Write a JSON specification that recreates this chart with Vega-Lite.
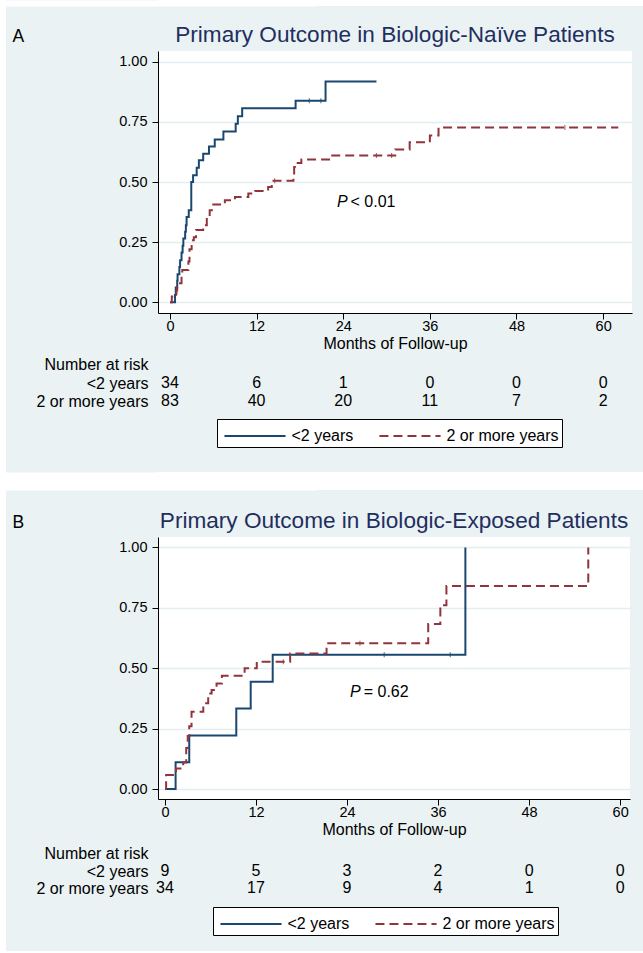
{
  "$schema": "https://vega.github.io/schema/vega-lite/v6.json",
  "background": "#eaf2f3",
  "padding": 0,
  "autosize": {"type": "pad"},
  "spacing": 152,
  "bounds": "flush",
  "config": {
    "font": "Liberation Sans",
    "view": {"stroke": null},
    "axis": {"domainColor": "#000000", "tickColor": "#000000", "labelColor": "#000000", "titleColor": "#000000", "titleFontWeight": "normal", "labelFont": "Liberation Sans", "titleFont": "Liberation Sans"},
    "title": {"font": "Liberation Sans", "fontWeight": "normal"},
    "text": {"font": "Liberation Sans", "color": "#000000"},
    "tick": {"orient": "vertical"}
  },
  "resolve": {
    "scale": {"x": "independent", "y": "independent", "color": "independent", "strokeDash": "independent"},
    "legend": {"color": "independent", "strokeDash": "independent"}
  },
  "datasets": {
    "km": [
      {"panel": "A", "g": "<2 years", "t": 0, "s": 0},
      {"panel": "A", "g": "<2 years", "t": 0.7, "s": 0.03},
      {"panel": "A", "g": "<2 years", "t": 0.8, "s": 0.062},
      {"panel": "A", "g": "<2 years", "t": 1.0, "s": 0.09},
      {"panel": "A", "g": "<2 years", "t": 1.05, "s": 0.117},
      {"panel": "A", "g": "<2 years", "t": 1.3, "s": 0.147},
      {"panel": "A", "g": "<2 years", "t": 1.4, "s": 0.175},
      {"panel": "A", "g": "<2 years", "t": 1.6, "s": 0.207},
      {"panel": "A", "g": "<2 years", "t": 1.75, "s": 0.235},
      {"panel": "A", "g": "<2 years", "t": 1.85, "s": 0.265},
      {"panel": "A", "g": "<2 years", "t": 2.1, "s": 0.293},
      {"panel": "A", "g": "<2 years", "t": 2.2, "s": 0.32},
      {"panel": "A", "g": "<2 years", "t": 2.3, "s": 0.355},
      {"panel": "A", "g": "<2 years", "t": 2.6, "s": 0.383},
      {"panel": "A", "g": "<2 years", "t": 2.95, "s": 0.5},
      {"panel": "A", "g": "<2 years", "t": 3.2, "s": 0.528},
      {"panel": "A", "g": "<2 years", "t": 3.7, "s": 0.559},
      {"panel": "A", "g": "<2 years", "t": 4.0, "s": 0.59},
      {"panel": "A", "g": "<2 years", "t": 4.6, "s": 0.617},
      {"panel": "A", "g": "<2 years", "t": 5.4, "s": 0.648},
      {"panel": "A", "g": "<2 years", "t": 6.2, "s": 0.677},
      {"panel": "A", "g": "<2 years", "t": 7.4, "s": 0.71},
      {"panel": "A", "g": "<2 years", "t": 9.1, "s": 0.742},
      {"panel": "A", "g": "<2 years", "t": 9.4, "s": 0.773},
      {"panel": "A", "g": "<2 years", "t": 10.0, "s": 0.807},
      {"panel": "A", "g": "<2 years", "t": 17.4, "s": 0.838},
      {"panel": "A", "g": "<2 years", "t": 21.55, "s": 0.918},
      {"panel": "A", "g": "<2 years", "t": 28.6, "s": 0.918},
      {"panel": "A", "g": "2 or more years", "t": 0, "s": 0},
      {"panel": "A", "g": "2 or more years", "t": 0.25, "s": 0.024},
      {"panel": "A", "g": "2 or more years", "t": 0.9, "s": 0.05},
      {"panel": "A", "g": "2 or more years", "t": 1.0, "s": 0.079},
      {"panel": "A", "g": "2 or more years", "t": 1.6, "s": 0.11},
      {"panel": "A", "g": "2 or more years", "t": 1.7, "s": 0.134},
      {"panel": "A", "g": "2 or more years", "t": 2.55, "s": 0.17},
      {"panel": "A", "g": "2 or more years", "t": 2.7, "s": 0.22},
      {"panel": "A", "g": "2 or more years", "t": 3.0, "s": 0.258},
      {"panel": "A", "g": "2 or more years", "t": 3.3, "s": 0.27},
      {"panel": "A", "g": "2 or more years", "t": 3.6, "s": 0.3},
      {"panel": "A", "g": "2 or more years", "t": 4.6, "s": 0.32},
      {"panel": "A", "g": "2 or more years", "t": 5.1, "s": 0.35},
      {"panel": "A", "g": "2 or more years", "t": 5.5, "s": 0.383},
      {"panel": "A", "g": "2 or more years", "t": 6.0, "s": 0.407},
      {"panel": "A", "g": "2 or more years", "t": 7.6, "s": 0.424},
      {"panel": "A", "g": "2 or more years", "t": 9.0, "s": 0.438},
      {"panel": "A", "g": "2 or more years", "t": 10.85, "s": 0.452},
      {"panel": "A", "g": "2 or more years", "t": 11.8, "s": 0.463},
      {"panel": "A", "g": "2 or more years", "t": 13.6, "s": 0.479},
      {"panel": "A", "g": "2 or more years", "t": 14.1, "s": 0.505},
      {"panel": "A", "g": "2 or more years", "t": 17.1, "s": 0.53},
      {"panel": "A", "g": "2 or more years", "t": 17.2, "s": 0.562},
      {"panel": "A", "g": "2 or more years", "t": 17.5, "s": 0.579},
      {"panel": "A", "g": "2 or more years", "t": 18.2, "s": 0.594},
      {"panel": "A", "g": "2 or more years", "t": 22.2, "s": 0.61},
      {"panel": "A", "g": "2 or more years", "t": 31.2, "s": 0.635},
      {"panel": "A", "g": "2 or more years", "t": 33.2, "s": 0.665},
      {"panel": "A", "g": "2 or more years", "t": 36.0, "s": 0.693},
      {"panel": "A", "g": "2 or more years", "t": 37.2, "s": 0.727},
      {"panel": "A", "g": "2 or more years", "t": 62.1, "s": 0.727},
      {"panel": "B", "g": "<2 years", "t": 0, "s": 0},
      {"panel": "B", "g": "<2 years", "t": 1.4, "s": 0.111},
      {"panel": "B", "g": "<2 years", "t": 3.2, "s": 0.222},
      {"panel": "B", "g": "<2 years", "t": 9.4, "s": 0.333},
      {"panel": "B", "g": "<2 years", "t": 11.3, "s": 0.444},
      {"panel": "B", "g": "<2 years", "t": 14.2, "s": 0.556},
      {"panel": "B", "g": "<2 years", "t": 39.6, "s": 1.0},
      {"panel": "B", "g": "2 or more years", "t": 0, "s": 0},
      {"panel": "B", "g": "2 or more years", "t": 0.15, "s": 0.058},
      {"panel": "B", "g": "2 or more years", "t": 1.45, "s": 0.085},
      {"panel": "B", "g": "2 or more years", "t": 2.4, "s": 0.11},
      {"panel": "B", "g": "2 or more years", "t": 2.8, "s": 0.17},
      {"panel": "B", "g": "2 or more years", "t": 3.0, "s": 0.22},
      {"panel": "B", "g": "2 or more years", "t": 3.2, "s": 0.26},
      {"panel": "B", "g": "2 or more years", "t": 3.5, "s": 0.32},
      {"panel": "B", "g": "2 or more years", "t": 5.05, "s": 0.355},
      {"panel": "B", "g": "2 or more years", "t": 5.7, "s": 0.396},
      {"panel": "B", "g": "2 or more years", "t": 6.15, "s": 0.41},
      {"panel": "B", "g": "2 or more years", "t": 6.8, "s": 0.437},
      {"panel": "B", "g": "2 or more years", "t": 7.5, "s": 0.469},
      {"panel": "B", "g": "2 or more years", "t": 10.5, "s": 0.5},
      {"panel": "B", "g": "2 or more years", "t": 12.1, "s": 0.527},
      {"panel": "B", "g": "2 or more years", "t": 16.5, "s": 0.561},
      {"panel": "B", "g": "2 or more years", "t": 21.3, "s": 0.603},
      {"panel": "B", "g": "2 or more years", "t": 34.7, "s": 0.683},
      {"panel": "B", "g": "2 or more years", "t": 36.3, "s": 0.761},
      {"panel": "B", "g": "2 or more years", "t": 37.1, "s": 0.84},
      {"panel": "B", "g": "2 or more years", "t": 55.8, "s": 1.0}
    ],
    "censor": [
      {"panel": "A", "g": "<2 years", "t": 19.3, "s": 0.838},
      {"panel": "A", "g": "<2 years", "t": 20.9, "s": 0.838},
      {"panel": "A", "g": "2 or more years", "t": 14.5, "s": 0.505},
      {"panel": "A", "g": "2 or more years", "t": 28.6, "s": 0.61},
      {"panel": "A", "g": "2 or more years", "t": 30.7, "s": 0.61},
      {"panel": "A", "g": "2 or more years", "t": 54.7, "s": 0.727},
      {"panel": "B", "g": "<2 years", "t": 28.9, "s": 0.556},
      {"panel": "B", "g": "<2 years", "t": 37.6, "s": 0.556},
      {"panel": "B", "g": "2 or more years", "t": 15.6, "s": 0.527},
      {"panel": "B", "g": "2 or more years", "t": 25.7, "s": 0.603}
    ],
    "risk": [
      {"panel": "A", "g": "<2 years", "t": 0, "n": 34},
      {"panel": "A", "g": "<2 years", "t": 12, "n": 6},
      {"panel": "A", "g": "<2 years", "t": 24, "n": 1},
      {"panel": "A", "g": "<2 years", "t": 36, "n": 0},
      {"panel": "A", "g": "<2 years", "t": 48, "n": 0},
      {"panel": "A", "g": "<2 years", "t": 60, "n": 0},
      {"panel": "A", "g": "2 or more years", "t": 0, "n": 83},
      {"panel": "A", "g": "2 or more years", "t": 12, "n": 40},
      {"panel": "A", "g": "2 or more years", "t": 24, "n": 20},
      {"panel": "A", "g": "2 or more years", "t": 36, "n": 11},
      {"panel": "A", "g": "2 or more years", "t": 48, "n": 7},
      {"panel": "A", "g": "2 or more years", "t": 60, "n": 2},
      {"panel": "B", "g": "<2 years", "t": 0, "n": 9},
      {"panel": "B", "g": "<2 years", "t": 12, "n": 5},
      {"panel": "B", "g": "<2 years", "t": 24, "n": 3},
      {"panel": "B", "g": "<2 years", "t": 36, "n": 2},
      {"panel": "B", "g": "<2 years", "t": 48, "n": 0},
      {"panel": "B", "g": "<2 years", "t": 60, "n": 0},
      {"panel": "B", "g": "2 or more years", "t": 0, "n": 34},
      {"panel": "B", "g": "2 or more years", "t": 12, "n": 17},
      {"panel": "B", "g": "2 or more years", "t": 24, "n": 9},
      {"panel": "B", "g": "2 or more years", "t": 36, "n": 4},
      {"panel": "B", "g": "2 or more years", "t": 48, "n": 1},
      {"panel": "B", "g": "2 or more years", "t": 60, "n": 0}
    ]
  },
  "hconcat": [
    {
      "width": 6, "height": 951,
      "view": {"fill": "white", "stroke": null},
      "data": {"values": [{}]},
      "mark": {"type": "point", "opacity": 0},
      "encoding": {}
    },
    {
      "spacing": 0,
      "bounds": "flush",
      "resolve": {
        "scale": {"x": "independent", "y": "independent", "color": "independent", "strokeDash": "independent"},
        "legend": {"color": "independent", "strokeDash": "independent"}
      },
      "vconcat": [
        {
          "width": 485, "height": 6,
          "view": {"fill": "white", "stroke": null},
          "data": {"values": [{}]},
          "mark": {"type": "point", "opacity": 0},
          "encoding": {"y": {"datum": 0, "type": "quantitative", "scale": {"domain": [0, 1]}, "axis": {"domain": true, "domainColor": "white", "domainWidth": 316, "ticks": false, "labels": false, "grid": false, "title": null}}}
        },
        {
          "width": 485, "height": 45,
          "view": {"stroke": null},
          "data": {"values": [{}]},
          "mark": {"type": "point", "opacity": 0},
          "encoding": {"y": {"datum": 0, "type": "quantitative", "scale": {"domain": [0, 1]}, "axis": {"domain": false, "ticks": false, "labels": false, "grid": false, "title": "A", "titleAngle": 0, "titleAlign": "left", "titleBaseline": "alphabetic", "titleX": -146, "titleY": 35, "titleFontSize": 17.5, "titleFontWeight": "normal", "titleColor": "#000000"}}}
        },
        {
          "width": 474, "height": 262,
          "view": {"fill": "white", "stroke": null},
          "title": {"text": "Primary Outcome in Biologic-Naïve Patients", "fontSize": 22.6, "color": "#1f2f5f", "anchor": "middle", "frame": "group", "offset": -14, "baseline": "alphabetic"},
          "layer": [
            {
              "data": {"name": "km"},
              "transform": [{"filter": "datum.panel === 'A'"}],
              "mark": {"type": "line", "interpolate": "step-after", "strokeWidth": 2},
              "encoding": {
                "x": {"field": "t", "type": "quantitative", "scale": {"domain": [-1.66, 64], "nice": false, "zero": false},
                      "axis": {"values": [0, 12, 24, 36, 48, 60], "grid": false, "tickSize": 6, "labelPadding": 0, "labelFontSize": 14.5, "title": "Months of Follow-up", "titleFontSize": 16, "titlePadding": 3}},
                "y": {"field": "s", "type": "quantitative", "scale": {"domain": [-0.0445, 1.0445], "nice": false, "zero": false},
                      "axis": {"values": [0, 0.25, 0.5, 0.75, 1], "format": ".2f", "grid": true, "gridColor": "#e4eef0", "gridWidth": 1.5, "tickSize": 6, "labelPadding": 5, "labelFontSize": 14.5, "title": null}},
                "color": {"field": "g", "type": "nominal", "scale": {"domain": ["<2 years", "2 or more years"], "range": ["#1a476f", "#90353b"]}, "legend": null},
                "strokeDash": {"field": "g", "type": "nominal", "scale": {"domain": ["<2 years", "2 or more years"], "range": [[1, 0], [9, 5]]}, "legend": null}
              }
            },
            {
              "data": {"name": "censor"},
              "transform": [{"filter": "datum.panel === 'A'"}],
              "mark": {"type": "tick", "size": 5, "thickness": 1.2},
              "encoding": {
                "x": {"field": "t", "type": "quantitative"},
                "y": {"field": "s", "type": "quantitative"},
                "color": {"field": "g", "type": "nominal", "legend": null}
              }
            },
            {
              "data": {"values": [{}]},
              "mark": {"type": "text", "fontStyle": "italic", "fontSize": 16, "align": "right", "baseline": "middle"},
              "encoding": {"x": {"datum": 24.6, "type": "quantitative"}, "y": {"datum": 0.418, "type": "quantitative"}, "text": {"value": "P"}}
            },
            {
              "data": {"values": [{}]},
              "mark": {"type": "text", "fontSize": 16, "align": "left", "baseline": "middle", "dx": 3},
              "encoding": {"x": {"datum": 24.6, "type": "quantitative"}, "y": {"datum": 0.418, "type": "quantitative"}, "text": {"value": "< 0.01"}}
            }
          ]
        },
        {
          "width": 474, "height": 159,
          "view": {"stroke": null},
          "data": {"name": "risk"},
          "transform": [{"filter": "datum.panel === 'A'"}],
          "encoding": {
            "x": {"field": "t", "type": "quantitative", "scale": {"domain": [-1.66, 64], "nice": false, "zero": false}, "axis": null},
            "y": {"field": "g", "type": "nominal", "scale": {"type": "point", "domain": ["<2 years", "2 or more years"], "range": [70, 88], "padding": 0},
                  "axis": {"orient": "left", "domain": false, "ticks": false, "tickSize": 0, "grid": false, "labelPadding": 10, "labelFontSize": 16, "title": "Number at risk", "titleAngle": 0, "titleAlign": "right", "titleBaseline": "middle", "titleX": -10, "titleY": 51, "titleFontSize": 16}}
          },
          "layer": [
            {"mark": {"type": "text", "fontSize": 16, "baseline": "middle"}, "encoding": {"text": {"field": "n", "type": "quantitative"}}},
            {
              "transform": [{"filter": "false"}],
              "mark": {"type": "line", "strokeWidth": 2},
              "encoding": {
                "color": {"field": "g", "type": "nominal", "scale": {"domain": ["<2 years", "2 or more years"], "range": ["#1a476f", "#90353b"]},
                          "legend": {"orient": "none", "legendX": 59, "legendY": 106, "direction": "horizontal", "title": null, "strokeColor": "black", "fillColor": "white", "padding": 3, "labelFontSize": 16, "labelColor": "black", "symbolType": "M-2.35,0L2.35,0", "symbolSize": 676, "symbolStrokeWidth": 2, "symbolOffset": 21, "columnPadding": 21, "labelOffset": 22.5}},
                "strokeDash": {"field": "g", "type": "nominal", "scale": {"domain": ["<2 years", "2 or more years"], "range": [[1, 0], [9, 5]]},
                          "legend": {"orient": "none", "legendX": 59, "legendY": 106, "direction": "horizontal", "title": null, "strokeColor": "black", "fillColor": "white", "padding": 3, "labelFontSize": 16, "labelColor": "black", "symbolType": "M-2.35,0L2.35,0", "symbolSize": 676, "symbolStrokeWidth": 2, "symbolOffset": 21, "columnPadding": 21, "labelOffset": 22.5}}
              }
            }
          ]
        },
        {
          "width": 485, "height": 18,
          "view": {"fill": "white", "stroke": null},
          "data": {"values": [{}]},
          "mark": {"type": "point", "opacity": 0},
          "encoding": {"y": {"datum": 0, "type": "quantitative", "scale": {"domain": [0, 1]}, "axis": {"domain": true, "domainColor": "white", "domainWidth": 316, "ticks": false, "labels": false, "grid": false, "title": null}}}
        },
        {
          "width": 485, "height": 47,
          "view": {"stroke": null},
          "data": {"values": [{}]},
          "mark": {"type": "point", "opacity": 0},
          "encoding": {"y": {"datum": 0, "type": "quantitative", "scale": {"domain": [0, 1]}, "axis": {"domain": false, "ticks": false, "labels": false, "grid": false, "title": "B", "titleAngle": 0, "titleAlign": "left", "titleBaseline": "alphabetic", "titleX": -146, "titleY": 37, "titleFontSize": 17.5, "titleFontWeight": "normal", "titleColor": "#000000"}}}
        },
        {
          "width": 472, "height": 262,
          "view": {"fill": "white", "stroke": null},
          "title": {"text": "Primary Outcome in Biologic-Exposed Patients", "fontSize": 22.6, "color": "#1f2f5f", "anchor": "middle", "frame": "group", "offset": -14, "baseline": "alphabetic"},
          "layer": [
            {
              "data": {"name": "km"},
              "transform": [{"filter": "datum.panel === 'B'"}],
              "mark": {"type": "line", "interpolate": "step-after", "strokeWidth": 2},
              "encoding": {
                "x": {"field": "t", "type": "quantitative", "scale": {"domain": [-0.92, 61.3], "nice": false, "zero": false},
                      "axis": {"values": [0, 12, 24, 36, 48, 60], "grid": false, "tickSize": 6, "labelPadding": 0, "labelFontSize": 14.5, "title": "Months of Follow-up", "titleFontSize": 16, "titlePadding": 3}},
                "y": {"field": "s", "type": "quantitative", "scale": {"domain": [-0.041, 1.043], "nice": false, "zero": false},
                      "axis": {"values": [0, 0.25, 0.5, 0.75, 1], "format": ".2f", "grid": true, "gridColor": "#e4eef0", "gridWidth": 1.5, "tickSize": 6, "labelPadding": 5, "labelFontSize": 14.5, "title": null}},
                "color": {"field": "g", "type": "nominal", "scale": {"domain": ["<2 years", "2 or more years"], "range": ["#1a476f", "#90353b"]}, "legend": null},
                "strokeDash": {"field": "g", "type": "nominal", "scale": {"domain": ["<2 years", "2 or more years"], "range": [[1, 0], [9, 5]]}, "legend": null}
              }
            },
            {
              "data": {"name": "censor"},
              "transform": [{"filter": "datum.panel === 'B'"}],
              "mark": {"type": "tick", "size": 5, "thickness": 1.2},
              "encoding": {
                "x": {"field": "t", "type": "quantitative"},
                "y": {"field": "s", "type": "quantitative"},
                "color": {"field": "g", "type": "nominal", "legend": null}
              }
            },
            {
              "data": {"values": [{}]},
              "mark": {"type": "text", "fontStyle": "italic", "fontSize": 16, "align": "right", "baseline": "middle"},
              "encoding": {"x": {"datum": 25.8, "type": "quantitative"}, "y": {"datum": 0.4, "type": "quantitative"}, "text": {"value": "P"}}
            },
            {
              "data": {"values": [{}]},
              "mark": {"type": "text", "fontSize": 16, "align": "left", "baseline": "middle", "dx": 3},
              "encoding": {"x": {"datum": 25.8, "type": "quantitative"}, "y": {"datum": 0.4, "type": "quantitative"}, "text": {"value": "= 0.62"}}
            }
          ]
        },
        {
          "width": 472, "height": 152,
          "view": {"stroke": null},
          "data": {"name": "risk"},
          "transform": [{"filter": "datum.panel === 'B'"}],
          "encoding": {
            "x": {"field": "t", "type": "quantitative", "scale": {"domain": [-0.92, 61.3], "nice": false, "zero": false}, "axis": null},
            "y": {"field": "g", "type": "nominal", "scale": {"type": "point", "domain": ["<2 years", "2 or more years"], "range": [72, 89], "padding": 0},
                  "axis": {"orient": "left", "domain": false, "ticks": false, "tickSize": 0, "grid": false, "labelPadding": 10, "labelFontSize": 16, "title": "Number at risk", "titleAngle": 0, "titleAlign": "right", "titleBaseline": "middle", "titleX": -10, "titleY": 54, "titleFontSize": 16}}
          },
          "layer": [
            {"mark": {"type": "text", "fontSize": 16, "baseline": "middle"}, "encoding": {"text": {"field": "n", "type": "quantitative"}}},
            {
              "transform": [{"filter": "false"}],
              "mark": {"type": "line", "strokeWidth": 2},
              "encoding": {
                "color": {"field": "g", "type": "nominal", "scale": {"domain": ["<2 years", "2 or more years"], "range": ["#1a476f", "#90353b"]},
                          "legend": {"orient": "none", "legendX": 55, "legendY": 108, "direction": "horizontal", "title": null, "strokeColor": "black", "fillColor": "white", "padding": 3, "labelFontSize": 16, "labelColor": "black", "symbolType": "M-2.35,0L2.35,0", "symbolSize": 676, "symbolStrokeWidth": 2, "symbolOffset": 21, "columnPadding": 21, "labelOffset": 22.5}},
                "strokeDash": {"field": "g", "type": "nominal", "scale": {"domain": ["<2 years", "2 or more years"], "range": [[1, 0], [9, 5]]},
                          "legend": {"orient": "none", "legendX": 55, "legendY": 108, "direction": "horizontal", "title": null, "strokeColor": "black", "fillColor": "white", "padding": 3, "labelFontSize": 16, "labelColor": "black", "symbolType": "M-2.35,0L2.35,0", "symbolSize": 676, "symbolStrokeWidth": 2, "symbolOffset": 21, "columnPadding": 21, "labelOffset": 22.5}}
              }
            }
          ]
        }
      ]
    }
  ]
}
